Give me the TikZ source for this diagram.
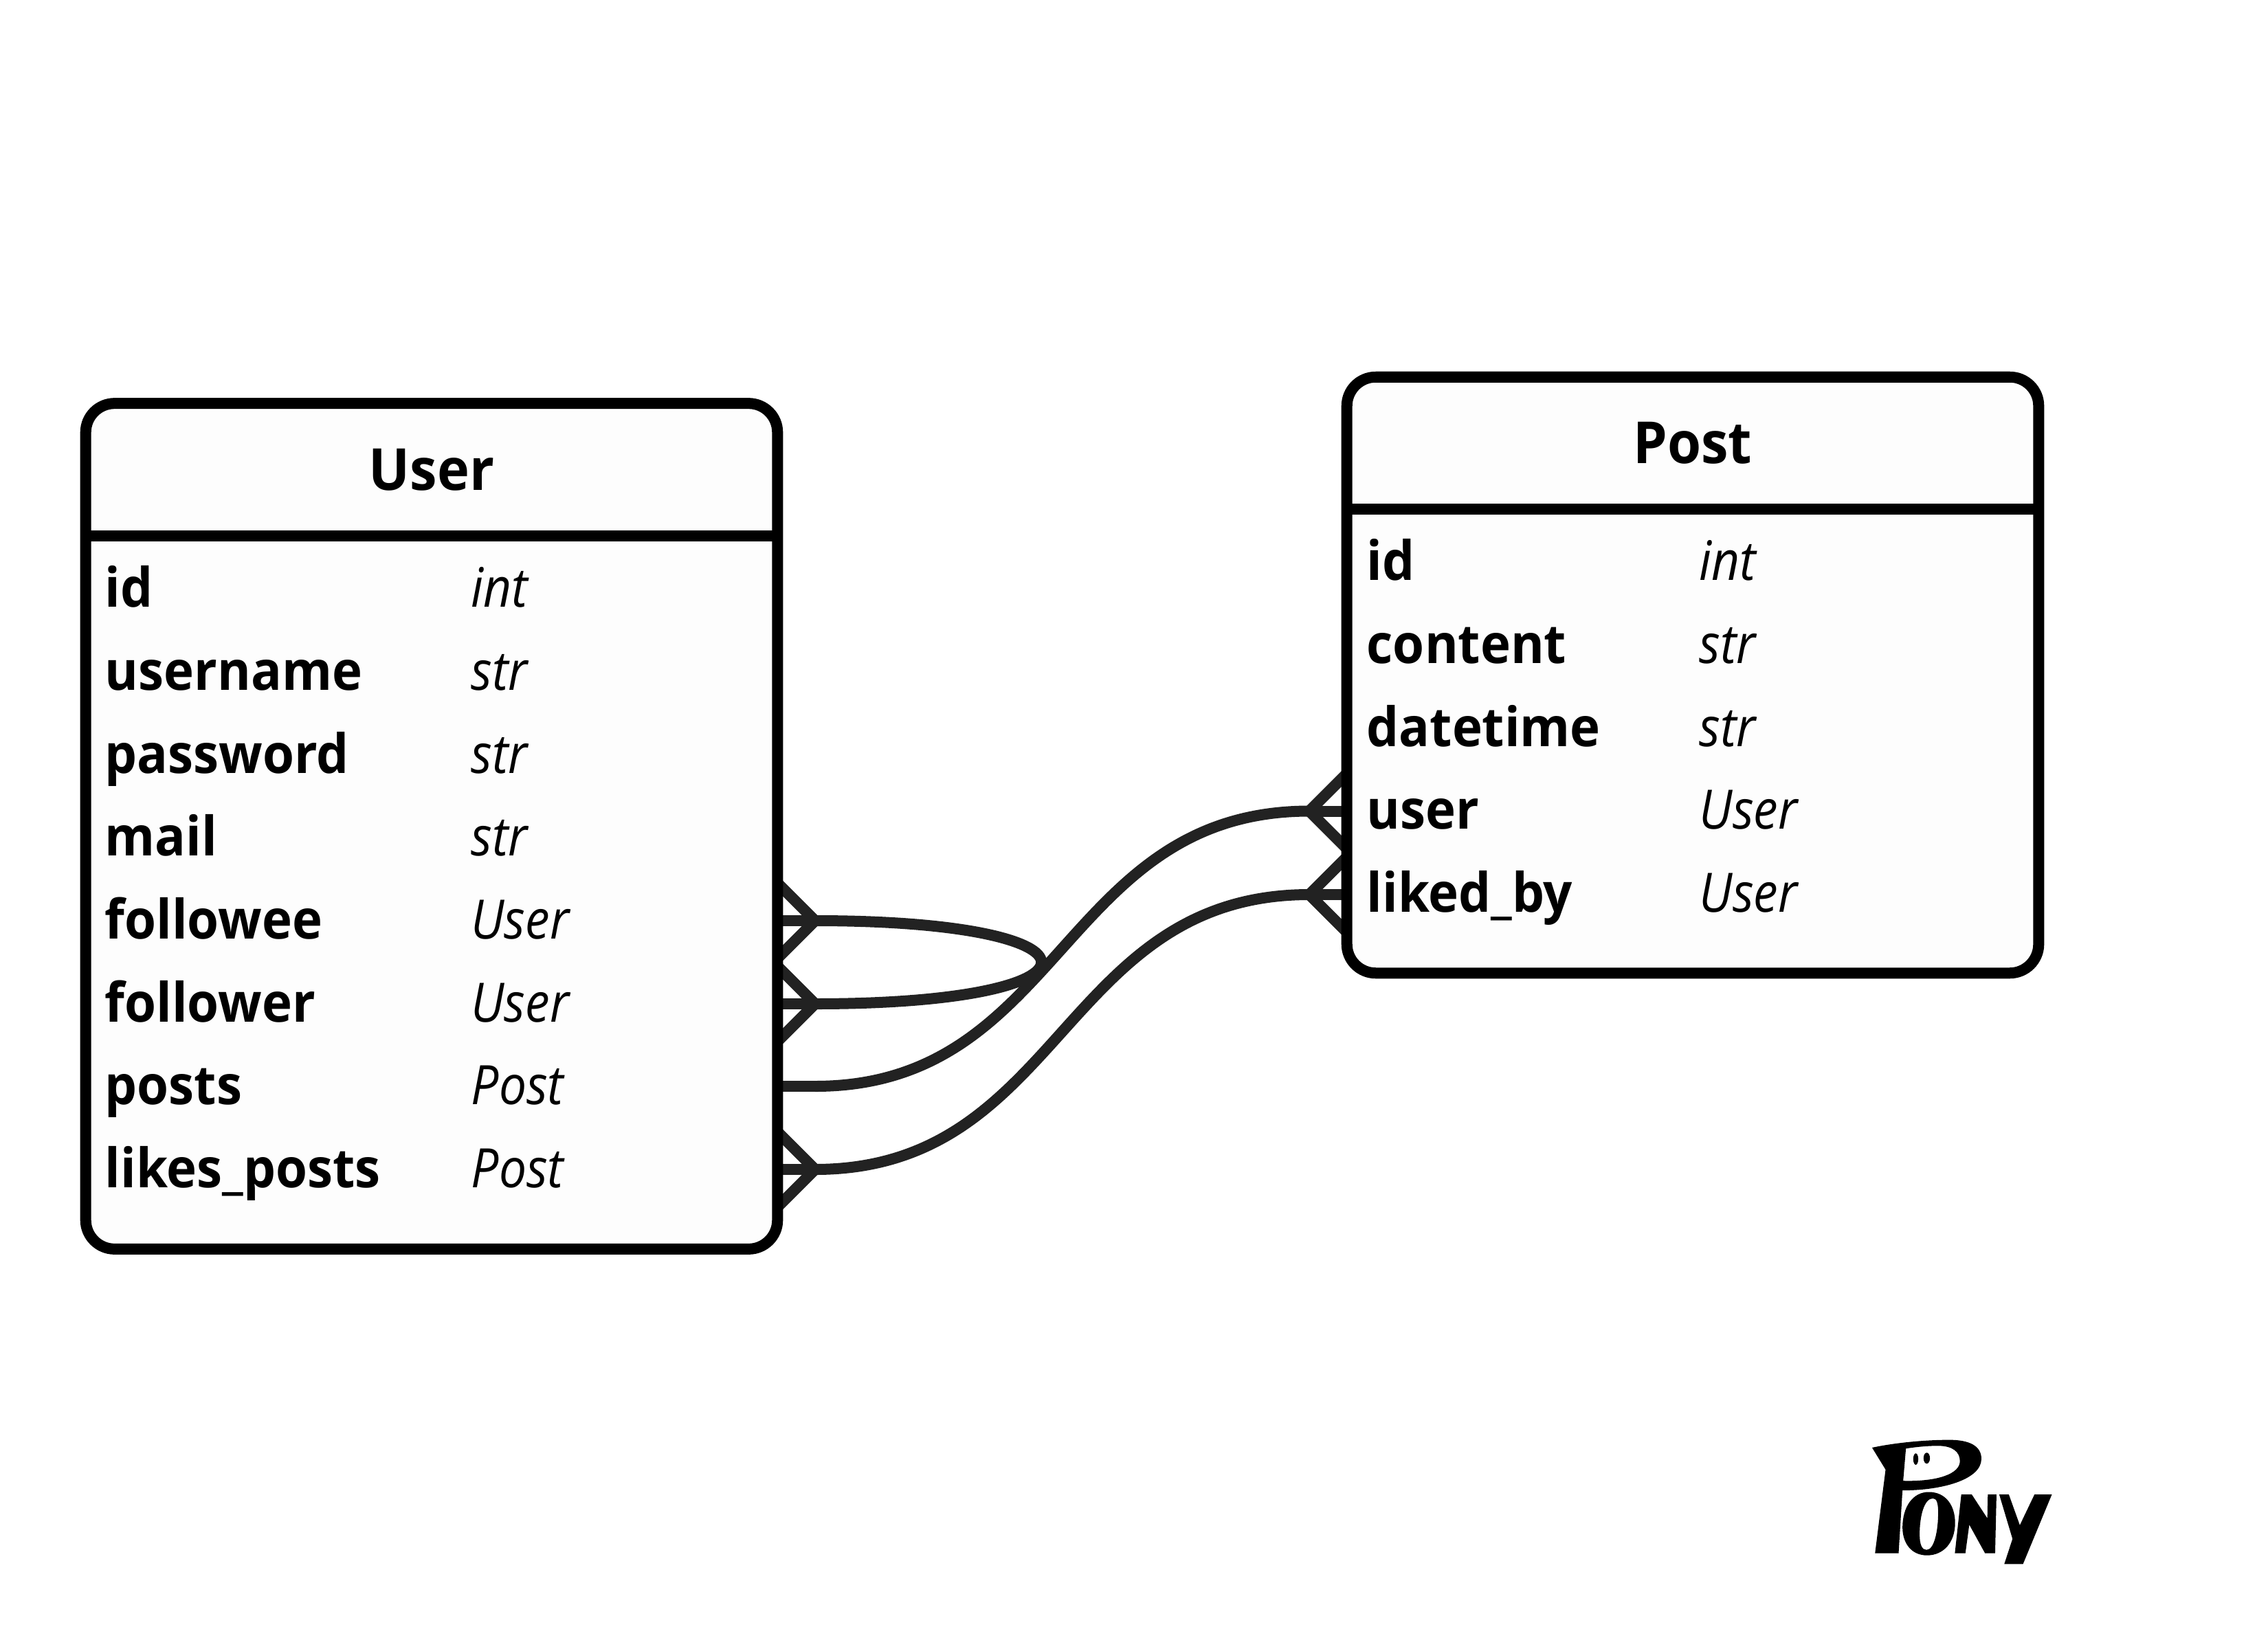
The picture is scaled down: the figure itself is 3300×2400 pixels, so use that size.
\documentclass[tikz,border=0pt]{standalone}
\usepackage{fontspec}
\setmainfont{Open Sans}
\newfontfamily\namefont{Open Sans}[FakeStretch=0.94]
\newfontfamily\typefont{Open Sans}[FakeStretch=0.90]
\usetikzlibrary{backgrounds}
\definecolor{conncol}{HTML}{222222}
\definecolor{boxfill}{HTML}{FDFDFD}
\tikzset{
  x=0.01cm,y=-0.01cm,
  tablebox/.style={draw=black,fill=boxfill,line width=0.16cm,rounded corners=0.42cm,minimum width=#1,inner sep=0pt,outer sep=0pt},
  divider/.style={draw=black,line width=0.16cm},
  conn/.style={draw=conncol,line width=0.16cm,line join=miter},
  title/.style={font=\namefont\bfseries\fontsize{24}{30}\selectfont,anchor=base,inner sep=0pt},
  fieldname/.style={font=\namefont\bfseries\fontsize{22.5}{27}\selectfont,anchor=base west,inner sep=0pt},
  fieldtype/.style={font=\typefont\itshape\fontsize{22.5}{27}\selectfont,anchor=base west,inner sep=0pt},
}
\begin{document}
\begin{tikzpicture}
\useasboundingbox (0,0) rectangle (3300,2400);
% boxes
\node[tablebox=10.06cm,minimum height=12.30cm] (user) at (628,1202.5) {};
\node[tablebox=10.06cm,minimum height=8.67cm] (post) at (2463,982.5) {};
\coordinate (ud) at (628,780);
\coordinate (pd) at (2463,741.3);
\draw[divider] (user.west |- ud) -- (user.east |- ud);
\draw[divider] (post.west |- pd) -- (post.east |- pd);
% titles
\node[title] (usertitle) at (628,713) {User};
\node[title] (posttitle) at (2463,674) {Post};
% user rows
\node[fieldname] (un1) at (152,883) {id};          \node[fieldtype] (ut1) at (685,883) {int};
\node[fieldname] (un2) at (152,1004) {username};   \node[fieldtype] (ut2) at (685,1004) {str};
\node[fieldname] (un3) at (152,1125) {password};   \node[fieldtype] (ut3) at (685,1125) {str};
\node[fieldname] (un4) at (152,1245) {mail};       \node[fieldtype] (ut4) at (685,1245) {str};
\node[fieldname] (un5) at (152,1366) {followee};   \node[fieldtype] (ut5) at (685,1366) {User};
\node[fieldname] (un6) at (152,1487) {follower};   \node[fieldtype] (ut6) at (685,1487) {User};
\node[fieldname] (un7) at (152,1607) {posts};      \node[fieldtype] (ut7) at (685,1607) {Post};
\node[fieldname] (un8) at (152,1728) {likes\_posts}; \node[fieldtype] (ut8) at (685,1728) {Post};
% post rows
\node[fieldname] (pn1) at (1988,844) {id};         \node[fieldtype] (pt1) at (2472,844) {int};
\node[fieldname] (pn2) at (1988,965) {content};    \node[fieldtype] (pt2) at (2472,965) {str};
\node[fieldname] (pn3) at (1988,1086) {datetime};  \node[fieldtype] (pt3) at (2472,1086) {str};
\node[fieldname] (pn4) at (1988,1206) {user};      \node[fieldtype] (pt4) at (2472,1206) {User};
\node[fieldname] (pn5) at (1988,1327) {liked\_by}; \node[fieldtype] (pt5) at (2472,1327) {User};
% connector ports
\coordinate (followee) at (1186,1340);
\coordinate (follower) at (1186,1461);
\coordinate (posts)    at (1186,1581);
\coordinate (likes)    at (1186,1702);
\coordinate (puser)    at (1905,1180.5);
\coordinate (pliked)   at (1905,1302);
\begin{scope}[on background layer]
  \foreach \p in {followee,follower,likes}{
    \draw[conn] (\p) -- (user.east |- \p);
    \draw[conn] ([shift={(-55,-55)}]\p) -- (\p) -- ([shift={(-55,55)}]\p);
  }
  \foreach \p in {puser,pliked}{
    \draw[conn] (\p) -- (post.west |- \p);
    \draw[conn] ([shift={(55,-55)}]\p) -- (\p) -- ([shift={(55,55)}]\p);
  }
  \draw[conn] (user.east |- posts) -- (posts);
  \draw[conn] (followee) .. controls (1625,1340) and (1625,1461) .. (follower);
  \draw[conn] (posts) .. controls (1545,1581) and (1545,1180.5) .. (puser);
  \draw[conn] (likes) .. controls (1545,1702) and (1545,1302) .. (pliked);
\end{scope}
% Pony logo
\begin{scope}[shift={(2650,2060)},x=0.003333cm,y=-0.003333cm]
  \fill[black,even odd rule]
    (222,141) .. controls (320,120) and (450,107) .. (560,107)
    .. controls (650,107) and (700,135) .. (700,190)
    .. controls (700,280) and (530,328) .. (355,328)
    -- (338,603) -- (235,603) -- (281,237) -- cycle
    (370,145) .. controls (420,137) and (470,133) .. (510,133)
    .. controls (575,133) and (606,160) .. (606,200)
    .. controls (606,255) and (510,290) .. (358,286) -- cycle;
  \fill[black] (413,191) ellipse [x radius=11,y radius=25];
  \fill[black] (461,187) ellipse [x radius=14,y radius=24];
  \fill[black,even odd rule]
    (470,335) .. controls (545,335) and (585,395) .. (585,470)
    .. controls (585,555) and (535,612) .. (462,612)
    .. controls (395,612) and (355,560) .. (355,490)
    .. controls (355,400) and (400,335) .. (470,335) -- cycle
    (488,363) .. controls (450,363) and (430,440) .. (430,520)
    .. controls (430,565) and (440,588) .. (460,588)
    .. controls (495,588) and (511,500) .. (511,425)
    .. controls (511,385) and (505,363) .. (488,363) -- cycle;
  \fill[black] (612,346) -- (658,346) -- (726,450) -- (728,346) -- (766,346)
    -- (760,603) -- (716,603) -- (647,478) -- (630,603) -- (584,603) -- cycle;
  \fill[black] (778,346) -- (820,346) -- (868,480) -- (932,346) -- (1008,346)
    -- (882,650) -- (800,650) -- (836,540) -- cycle;
\end{scope}
\end{tikzpicture}
\end{document}
